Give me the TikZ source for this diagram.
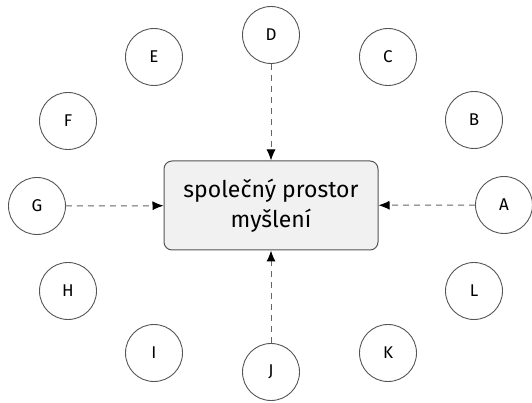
\documentclass[tikz,border=0pt]{standalone}
\usepackage{fontspec}
\setmainfont{Fira Sans}
\usetikzlibrary{arrows.meta}
\definecolor{boxfill}{HTML}{F1F1F1}
\definecolor{edge}{HTML}{555555}
\definecolor{dashcol}{HTML}{666666}
\begin{document}
\begin{tikzpicture}[x=1pt,y=1pt,
  person/.style={circle, draw=edge, line width=0.9pt, minimum size=57pt, inner sep=0pt, font=\fontsize{17}{17}\selectfont, fill=white},
  centerbox/.style={draw=edge, line width=1pt, fill=boxfill, rounded corners=8pt, minimum width=214pt, minimum height=89pt, align=center, font=\fontsize{23}{30}\selectfont},
  link/.style={draw=dashcol, line width=1pt, dash pattern=on 6pt off 5pt, -{Latex[length=11pt,width=9pt,color=black]}}]
\useasboundingbox (0,0) rectangle (532,403);
\node[centerbox] (S) at (271,197.5) {společný prostor\\myšlení};
\node[person] (A) at (504,198) {A};
\node[person] (B) at (474,283) {B};
\node[person] (C) at (388,346) {C};
\node[person] (D) at (271,368) {D};
\node[person] (E) at (154,346) {E};
\node[person] (F) at (68,282) {F};
\node[person] (G) at (37,197) {G};
\node[person] (H) at (68,112) {H};
\node[person] (I) at (154,50) {I};
\node[person] (J) at (271,31) {J};
\node[person] (K) at (388,50) {K};
\node[person] (L) at (474,112) {L};
\draw[link] (D) -- (S);
\draw[link] (J) -- (S);
\draw[link] (G) -- (S);
\draw[link] (A) -- (S);
\end{tikzpicture}
\end{document}
